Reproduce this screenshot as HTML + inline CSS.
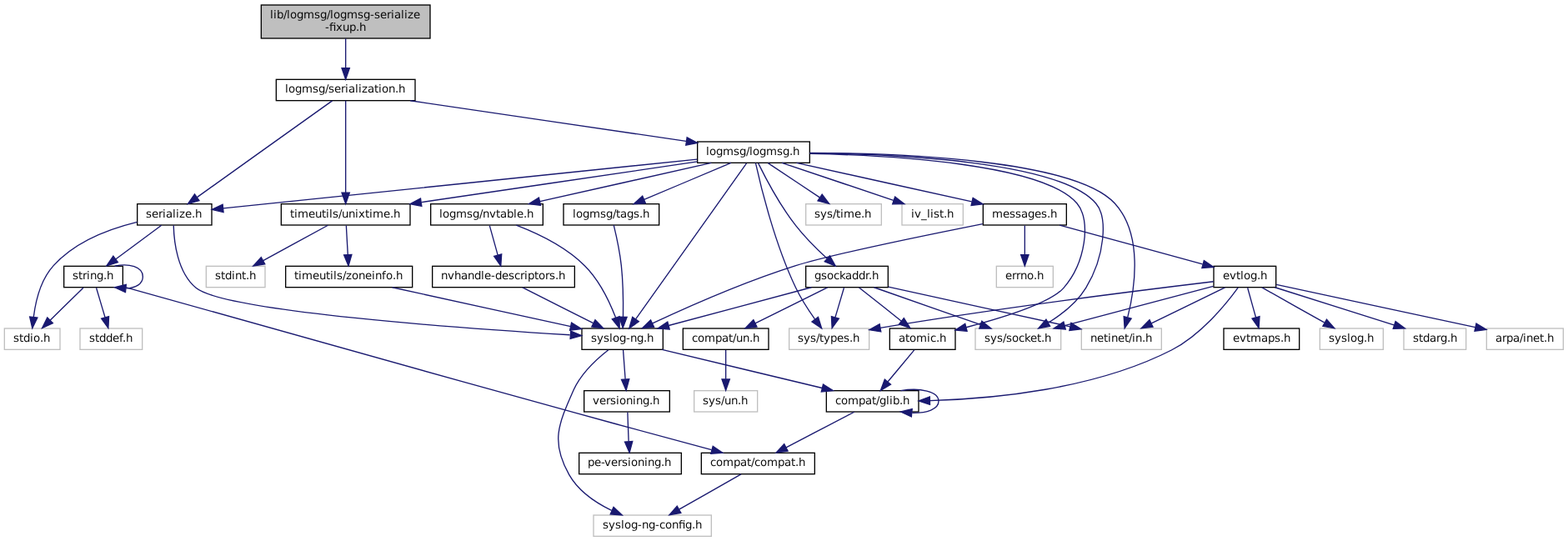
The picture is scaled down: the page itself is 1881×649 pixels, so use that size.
<!DOCTYPE html>
<html lang="en">
<head>
<meta charset="utf-8">
<title>lib/logmsg/logmsg-serialize-fixup.h</title>
<style>
html,body{margin:0;padding:0;background:#fff;}
body{width:1881px;height:649px;overflow:hidden;}
svg{display:block;will-change:transform;}
text{font-family:"DejaVu Sans","Liberation Sans",sans-serif;font-size:10px;fill:#000;white-space:pre;}
.n rect{fill:#fff;stroke:#000;stroke-width:1;}
.s rect{stroke:#bfbfbf;}
.r rect{fill:#bfbfbf;}
.e path{fill:none;stroke:#191970;stroke-width:1;}
.e polygon{fill:#191970;stroke:#191970;stroke-width:1;}
text{text-rendering:geometricPrecision;fill-opacity:0.955}
</style>
</head>
<body>
<svg width="1881" height="649" viewBox="0 0 1410.75 486.75">
<rect x="0" y="0" width="1410.75" height="486.75" fill="#fff"/>
<g transform="translate(4 483)">
<g class="n r"><rect x="231" y="-478.5" width="152" height="30"/><text x="239 242 245 251 254 257 263 269 278.75 284 290 293 296 302 308 317.75 323 329 332.75 338 344 347.75 350.75 356.75 359.75 362.75 368" y="-466.5">lib/logmsg/logmsg-serialize</text><text y="-455.25"><tspan x="288.5">-</tspan><tspan x="292.25">fi</tspan><tspan x="298.25 304.25 310.25 316.25 319.25">xup.h</tspan></text></g>
<g class="n"><rect x="244.5" y="-411.5" width="125" height="19"/><text x="252.5 255.5 261.5 267.5 277.25 282.5 288.5 291.5 296.75 302.75 306.5 309.5 315.5 318.5 321.5 326.75 332.75 336.5 339.5 345.5 351.5 354.5" y="-399.75">logmsg/serialization.h</text></g>
<g class="n"><rect x="119.5" y="-299.5" width="67" height="19"/><text x="127.25 132.5 138.5 142.25 145.25 151.25 154.25 157.25 162.5 168.5 171.5" y="-287.25">serialize.h</text></g>
<g class="n"><rect x="623.5" y="-355.5" width="101" height="19"/><text x="631.25 634.25 640.25 646.25 656 661.25 667.25 670.25 673.25 679.25 685.25 695 700.25 706.25 709.25" y="-343.5">logmsg/logmsg.h</text></g>
<g class="n"><rect x="249" y="-299.5" width="116" height="19"/><text x="257 260.75 263.75 273.5 279.5 285.5 289.25 292.25 295.25 300.5 303.5 309.5 315.5 318.5 324.5 328.25 331.25 341 347 350" y="-287.25">timeutils/unixtime.h</text></g>
<g class="n s"><rect x="0" y="-187.5" width="50" height="19"/><text x="8 13.25 17 23 26 32 35" y="-175.5">stdio.h</text></g>
<g class="n"><rect x="53.5" y="-243.5" width="53" height="19"/><text x="61.25 66.5 70.25 74 77 83 89 92" y="-231.75">string.h</text></g>
<g class="n"><rect x="519.5" y="-187.5" width="73" height="19"/><text x="527.75 533 539 544.25 547.25 553.25 559.25 563 569 575 578" y="-175.5">syslog-ng.h</text></g>
<g class="n"><rect x="627" y="-75.5" width="102" height="19"/><text x="635 640.25 646.25 656 662 668 671.75 674.75 680 686 695.75 701.75 707.75 711.5 714.5" y="-63.75">compat/compat.h</text></g>
<g class="n s"><rect x="68" y="-187.5" width="56" height="19"/><text x="76.25 81.5 85.25 91.25 97.25 103.25 106.25 109.25" y="-175.5">stddef.h</text></g>
<g class="n s"><rect x="530" y="-19.5" width="106" height="19"/><text y="-7.5"><tspan x="538.25 543.5 549.5 554.75 557.75 563.75 569.75 573.5 579.5 585.5 589.25 594.5 600.5">syslog-ng-con</tspan><tspan x="606.5">fi</tspan><tspan x="612.5 618.5 621.5">g.h</tspan></text></g>
<g class="n"><rect x="739.5" y="-131.5" width="83" height="19"/><text x="747.5 752.75 758.75 768.5 774.5 780.5 784.25 787.25 793.25 796.25 799.25 805.25 808.25" y="-119.25">compat/glib.h</text></g>
<g class="n"><rect x="521.5" y="-131.5" width="77" height="19"/><text x="529.25 535.25 541.25 545 550.25 553.25 559.25 565.25 568.25 574.25 580.25 583.25" y="-119.25">versioning.h</text></g>
<g class="n"><rect x="517" y="-75.5" width="92" height="19"/><text x="524.75 530.75 536.75 539.75 545.75 551.75 555.5 560.75 563.75 569.75 575.75 578.75 584.75 590.75 593.75" y="-63.75">pe-versioning.h</text></g>
<g class="n"><rect x="721" y="-243.5" width="74" height="19"/><text x="728.75 734.75 740 746 751.25 756.5 762.5 768.5 774.5 777.5 780.5" y="-231.75">gsockaddr.h</text></g>
<g class="n"><rect x="796.5" y="-187.5" width="59" height="19"/><text x="804.5 810.5 814.25 820.25 830 833 838.25 841.25" y="-175.5">atomic.h</text></g>
<g class="n s"><rect x="706" y="-187.5" width="72" height="19"/><text x="713.75 719 725 730.25 733.25 737 743 749 755 760.25 763.25" y="-175.5">sys/types.h</text></g>
<g class="n s"><rect x="873.5" y="-187.5" width="77" height="19"/><text x="881.75 887 893 898.25 901.25 906.5 912.5 917.75 923 929 932.75 935.75" y="-175.5">sys/socket.h</text></g>
<g class="n s"><rect x="969" y="-187.5" width="72" height="19"/><text x="977 983 989 992.75 995.75 1001.75 1007.75 1011.5 1014.5 1017.5 1023.5 1026.5" y="-175.5">netinet/in.h</text></g>
<g class="n"><rect x="383.5" y="-299.5" width="101" height="19"/><text x="391.25 394.25 400.25 406.25 416 421.25 427.25 430.25 436.25 442.25 446 452 458 461 467 470" y="-287.25">logmsg/nvtable.h</text></g>
<g class="n"><rect x="503" y="-299.5" width="86" height="19"/><text x="511.25 514.25 520.25 526.25 536 541.25 547.25 550.25 554 560 566 571.25 574.25" y="-287.25">logmsg/tags.h</text></g>
<g class="n"><rect x="880.5" y="-299.5" width="75" height="19"/><text x="888.5 898.25 904.25 909.5 914.75 920.75 926.75 932.75 938 941" y="-287.25">messages.h</text></g>
<g class="n s"><rect x="721" y="-299.5" width="68" height="19"/><text x="728.75 734 740 745.25 748.25 752 755 764.75 770.75 773.75" y="-287.25">sys/time.h</text></g>
<g class="n s"><rect x="807.5" y="-299.5" width="55" height="19"/><text x="815.75 818.75 824.75 830 833 836 841.25 845 848" y="-287.25">iv_list.h</text></g>
<g class="n"><rect x="610.5" y="-187.5" width="77" height="19"/><text x="618.5 623.75 629.75 639.5 645.5 651.5 655.25 658.25 664.25 670.25 673.25" y="-175.5">compat/un.h</text></g>
<g class="n s"><rect x="620.5" y="-131.5" width="57" height="19"/><text x="628.25 633.5 639.5 644.75 647.75 653.75 659.75 662.75" y="-119.25">sys/un.h</text></g>
<g class="n s"><rect x="181.5" y="-243.5" width="53" height="19"/><text x="189.5 194.75 198.5 204.5 207.5 213.5 217.25 220.25" y="-231.75">stdint.h</text></g>
<g class="n"><rect x="253" y="-243.5" width="114" height="19"/><text x="260.75 264.5 267.5 277.25 283.25 289.25 293 296 299 304.25 307.25 312.5 318.5 324.5 330.5 333.5 339.5 343.25 349.25 352.25" y="-231.75">timeutils/zoneinfo.h</text></g>
<g class="n"><rect x="385" y="-243.5" width="128" height="19"/><text x="392.75 398.75 404.75 410.75 416.75 422.75 428.75 431.75 437.75 441.5 447.5 453.5 458.75 464 467.75 470.75 476.75 480.5 486.5 490.25 495.5 498.5" y="-231.75">nvhandle-descriptors.h</text></g>
<g class="n s"><rect x="892.5" y="-243.5" width="51" height="19"/><text x="900.5 906.5 910.25 914 920 926 929" y="-231.75">errno.h</text></g>
<g class="n"><rect x="1088" y="-243.5" width="56" height="19"/><text x="1096.25 1102.25 1108.25 1112 1115 1121 1127 1130" y="-231.75">evtlog.h</text></g>
<g class="n s"><rect x="1183.5" y="-187.5" width="57" height="19"/><text x="1191.5 1196.75 1202.75 1208 1211 1217 1223 1226" y="-175.5">syslog.h</text></g>
<g class="n s"><rect x="1259" y="-187.5" width="56" height="19"/><text x="1267.25 1272.5 1276.25 1282.25 1288.25 1292 1298 1301" y="-175.5">stdarg.h</text></g>
<g class="n s"><rect x="1333.5" y="-187.5" width="69" height="19"/><text x="1341.5 1347.5 1351.25 1357.25 1363.25 1366.25 1369.25 1375.25 1381.25 1385 1388" y="-175.5">arpa/inet.h</text></g>
<g class="n"><rect x="1097" y="-187.5" width="68" height="19"/><text x="1105.25 1111.25 1117.25 1121 1130.75 1136.75 1142.75 1148 1151" y="-175.5">evtmaps.h</text></g>
<g class="e"><path d="M307,-448.4C307,-440.47 307,-430.46 307,-421.86"/><polygon points="310.5,-421.66 307,-411.66 303.5,-421.66"/></g>
<g class="e"><path d="M294.92,-392.37C268.6,-373.57 205.88,-328.77 173.35,-305.53"/><polygon points="175.2,-302.56 165.03,-299.59 171.13,-308.25"/></g>
<g class="e"><path d="M365.15,-392.44C432.92,-382.47 544.38,-366.07 613.24,-355.94"/><polygon points="614.12,-359.35 623.5,-354.43 613.1,-352.42"/></g>
<g class="e"><path d="M307,-392.37C307,-374.62 307,-333.67 307,-309.6"/><polygon points="310.5,-309.59 307,-299.59 303.5,-309.59"/></g>
<g class="e"><path d="M119.36,-283.18C94.65,-277.16 63.54,-265.45 44.15,-244 32.63,-231.31 28.04,-212.11 26.24,-197.86"/><polygon points="29.7,-197.27 25.11,-187.72 22.74,-198.04"/></g>
<g class="e"><path d="M141.27,-280.32C130.16,-272.11 113.26,-259.6 100.02,-249.81"/><polygon points="102.06,-246.97 91.94,-243.83 97.9,-252.59"/></g>
<g class="e"><path d="M152.16,-280.23C152.5,-266 155.41,-238.06 172.28,-224 197.68,-202.83 411.96,-187.54 508.7,-181.66"/><polygon points="509.49,-185.14 519.26,-181.05 509.07,-178.16"/></g>
<g class="e"><path d="M70.92,-224.08C62.83,-216.14 50.8,-204.34 41.09,-194.8"/><polygon points="43.5,-192.26 33.91,-187.75 38.6,-197.25"/></g>
<g class="e"><path d="M99.21,-243.57C112.03,-246.27 124.5,-243.08 124.5,-234 124.5,-227.4 117.92,-223.92 109.4,-223.54"/><polygon points="108.87,-220.07 99.21,-224.43 109.48,-227.04"/></g>
<g class="e"><path d="M106.84,-225.14C173.77,-206.26 358.1,-154.36 512,-112 554.27,-100.37 602.65,-87.28 636.23,-78.23"/><polygon points="637.41,-81.53 646.16,-75.55 635.59,-74.77"/></g>
<g class="e"><path d="M82.64,-224.08C84.79,-216.85 87.88,-206.41 90.55,-197.4"/><polygon points="93.92,-198.33 93.41,-187.75 87.21,-196.34"/></g>
<g class="e"><path d="M662.74,-56.32C647.78,-47.82 624.75,-34.73 607.27,-24.8"/><polygon points="608.65,-21.55 598.23,-19.65 605.19,-27.64"/></g>
<g class="e"><path d="M543.37,-168.19C532.96,-160.07 518.85,-147.02 512,-132 498.3,-101.07 491.33,-85.43 508,-56 516.35,-41.26 531.66,-30.82 546.29,-23.73"/><polygon points="548,-26.8 555.72,-19.55 545.16,-20.4"/></g>
<g class="e"><path d="M591.65,-168.44C630.66,-159.08 693.27,-144.06 735.72,-133.87"/><polygon points="736.61,-137.25 745.51,-131.52 734.97,-130.45"/></g>
<g class="e"><path d="M556.66,-168.08C557.18,-161.01 557.94,-150.86 558.59,-141.99"/><polygon points="562.1,-141.98 559.35,-131.75 555.12,-141.47"/></g>
<g class="e"><path d="M764.61,-112.32C747.997,-103.7 722.463,-90.36 703.28,-80.39"/><polygon points="704.82,-77.24 694.35,-75.65 701.55,-83.43"/></g>
<g class="e"><path d="M806.38,-131.53C823.62,-134.31 840.5,-131.13 840.5,-122 840.5,-114.72 829.78,-111.23 816.7,-111.52"/><polygon points="816.01,-108.07 806.38,-112.47 816.66,-115.04"/></g>
<g class="e"><path d="M560.66,-112.08C560.847,-105.01 561.273,-94.86 561.59,-85.99"/><polygon points="565.1,-85.98 562.35,-75.75 558.12,-85.47"/></g>
<g class="e"><path d="M623.1,-339.72C521.05,-329.15 293.01,-305.51 196.98,-295.56"/><polygon points="197.05,-292.05 186.75,-294.5 196.33,-299.01"/></g>
<g class="e"><path d="M667.66,-336.08C648.76,-309.49 592.64,-230.54 567.92,-195.76"/><polygon points="570.74,-193.69 562.09,-187.57 565.03,-197.75"/></g>
<g class="e"><path d="M678.23,-336.12C684.62,-323.15 697.52,-298.55 712,-280 720.31,-269.35 731.04,-258.71 740.05,-250.46"/><polygon points="742.58,-252.89 747.71,-243.62 737.92,-247.67"/></g>
<g class="e"><path d="M724.68,-344.76C799.68,-343.21 934.64,-335.42 965,-300 978.06,-284.76 972.55,-246.25 953,-224 941.18,-210.54 898.05,-197.08 865.3,-188.44"/><polygon points="866.07,-185.02 855.51,-185.91 864.32,-191.8"/></g>
<g class="e"><path d="M675.8,-336.48C680.24,-316.26 692.81,-264.12 712,-224 716.71,-214.15 723.33,-203.97 729.15,-195.79"/><polygon points="732.13,-197.65 735.24,-187.52 726.49,-193.49"/></g>
<g class="e"><path d="M724.71,-345.26C803.41,-344.46 949.35,-337.76 982,-300 992.8,-287.51 990.21,-252.25 973,-224 964.98,-210.84 951.53,-200.3 939.29,-192.74"/><polygon points="940.7,-189.51 930.28,-187.54 937.2,-195.57"/></g>
<g class="e"><path d="M724.59,-345.51C806.62,-345.17 963.08,-339.23 999,-300 1024.48,-272.17 1017.2,-223.94 1010.56,-197.55"/><polygon points="1013.88,-196.42 1007.85,-187.71 1007.13,-198.28"/></g>
<g class="e"><path d="M623.36,-337.55C558.88,-328.06 447.25,-311.64 375.3,-301.05"/><polygon points="375.38,-297.52 364.98,-299.53 374.37,-304.45"/></g>
<g class="e"><path d="M635.97,-336.44C594.19,-327.04 527.02,-311.93 481.73,-301.74"/><polygon points="482.38,-298.3 471.85,-299.52 480.84,-305.13"/></g>
<g class="e"><path d="M653.72,-336.44C632.65,-327.56 599.48,-313.56 575.51,-303.45"/><polygon points="576.76,-300.18 566.19,-299.52 574.04,-306.63"/></g>
<g class="e"><path d="M712.66,-336.44C755.39,-326.99 824.24,-311.75 870.28,-301.56"/><polygon points="871.31,-304.92 880.32,-299.34 869.8,-298.08"/></g>
<g class="e"><path d="M687.01,-336.32C699.53,-327.98 718.68,-315.21 733.47,-305.35"/><polygon points="735.64,-308.11 742.02,-299.65 731.76,-302.29"/></g>
<g class="e"><path d="M699.51,-336.44C726.6,-327.36 769.59,-312.94 799.87,-302.78"/><polygon points="801.24,-306.01 809.61,-299.52 799.01,-299.38"/></g>
<g class="e"><path d="M725.99,-224.44C691.27,-215.16 635.71,-200.31 597.62,-190.13"/><polygon points="598.42,-186.72 587.86,-187.52 596.61,-193.48"/></g>
<g class="e"><path d="M740.49,-224.32C722.93,-215.62 695.67,-202.12 675.47,-192.11"/><polygon points="676.98,-188.96 666.47,-187.65 673.88,-195.23"/></g>
<g class="e"><path d="M768.93,-224.32C779.17,-216.18 794.72,-203.84 807,-194.09"/><polygon points="809.22,-196.79 814.88,-187.83 804.87,-191.31"/></g>
<g class="e"><path d="M755.36,-224.08C753.21,-216.85 750.12,-206.41 747.45,-197.4"/><polygon points="750.79,-196.34 744.59,-187.75 744.08,-198.33"/></g>
<g class="e"><path d="M782.4,-224.44C808.2,-215.4 849.08,-201.06 878.02,-190.92"/><polygon points="879.43,-194.13 887.71,-187.52 877.12,-187.52"/></g>
<g class="e"><path d="M795.25,-224.86C838.94,-215.3 911.4,-199.46 958.68,-189.13"/><polygon points="959.64,-192.5 968.66,-186.94 958.14,-185.66"/></g>
<g class="e"><path d="M649,-168.08C649,-161.01 649,-150.86 649,-141.99"/><polygon points="652.5,-141.75 649,-131.75 645.5,-141.75"/></g>
<g class="e"><path d="M818.57,-168.08C812.15,-160.38 802.69,-149.03 794.88,-139.65"/><polygon points="797.38,-137.19 788.29,-131.75 792.01,-141.67"/></g>
<g class="e"><path d="M291.09,-280.32C275.36,-271.74 251.06,-258.49 232.79,-248.52"/><polygon points="234.32,-245.37 223.87,-243.65 230.97,-251.52"/></g>
<g class="e"><path d="M307.5,-280.08C307.89,-273.01 308.45,-262.86 308.95,-253.99"/><polygon points="312.45,-253.93 309.51,-243.75 305.46,-253.54"/></g>
<g class="e"><path d="M348.98,-224.44C392.52,-214.88 462.98,-199.42 509.4,-189.23"/><polygon points="510.19,-192.64 519.21,-187.08 508.69,-185.8"/></g>
<g class="e"><path d="M460.51,-280.38C479.51,-273.12 504.69,-261.15 522,-244 535.26,-230.86 544.49,-211.45 549.95,-197.26"/><polygon points="553.32,-198.21 553.39,-187.62 546.73,-195.86"/></g>
<g class="e"><path d="M436.48,-280.08C438.49,-272.85 441.39,-262.41 443.89,-253.4"/><polygon points="447.26,-254.32 446.57,-243.75 440.52,-252.45"/></g>
<g class="e"><path d="M466.19,-224.32C483.35,-215.66 509.95,-202.24 529.75,-192.25"/><polygon points="531.5,-195.28 538.85,-187.65 528.35,-189.04"/></g>
<g class="e"><path d="M548.19,-280.45C550.39,-271.45 553.63,-256.83 555,-244 556.65,-228.55 556.81,-210.92 556.61,-197.92"/><polygon points="560.11,-197.78 556.37,-187.86 553.11,-197.94"/></g>
<g class="e"><path d="M880.08,-281.57C829.55,-271.52 742.9,-253.73 712,-244 665.53,-229.37 613.72,-206.38 583.04,-192.02"/><polygon points="584.4,-188.79 573.86,-187.69 581.41,-195.12"/></g>
<g class="e"><path d="M918,-280.08C918,-273.01 918,-262.86 918,-253.99"/><polygon points="921.5,-253.75 918,-243.75 914.5,-253.75"/></g>
<g class="e"><path d="M949.37,-280.44C984.26,-270.93 1040.61,-255.56 1077.97,-245.37"/><polygon points="1079.25,-248.65 1087.97,-242.64 1077.41,-241.9"/></g>
<g class="e"><path d="M1109.87,-224.13C1099.41,-209.75 1076.65,-181.59 1050,-168 980.51,-132.55 889.06,-124.09 832.68,-122.56"/><polygon points="832.65,-119.06 822.58,-122.35 832.51,-126.06"/></g>
<g class="e"><path d="M1087.84,-229.68C1031,-222.87 898.56,-206.39 788,-188 787.9,-187.98 787.8,-187.97 787.7,-187.95"/><polygon points="788.58,-184.55 778.12,-186.27 787.37,-191.45"/></g>
<g class="e"><path d="M1087.63,-225.49C1052.92,-216.3 993.83,-200.66 953.87,-190.08"/><polygon points="954.72,-186.69 944.16,-187.51 952.93,-193.45"/></g>
<g class="e"><path d="M1098.17,-224.32C1080.28,-215.62 1052.52,-202.12 1031.95,-192.11"/><polygon points="1033.31,-188.88 1022.79,-187.65 1030.25,-195.18"/></g>
<g class="e"><path d="M1131.42,-224.32C1146.54,-215.82 1169.82,-202.73 1187.47,-192.8"/><polygon points="1189.61,-195.61 1196.61,-187.65 1186.18,-189.51"/></g>
<g class="e"><path d="M1143.1,-224.44C1171.99,-215.32 1217.92,-200.81 1250.11,-190.65"/><polygon points="1251.55,-193.87 1260.03,-187.52 1249.44,-187.19"/></g>
<g class="e"><path d="M1144.42,-226.91C1187.98,-217.58 1271.64,-199.65 1323.36,-188.57"/><polygon points="1324.21,-191.96 1333.25,-186.45 1322.74,-185.12"/></g>
<g class="e"><path d="M1118.48,-224.08C1120.49,-216.85 1123.39,-206.41 1125.89,-197.4"/><polygon points="1129.26,-198.32 1128.57,-187.75 1122.52,-196.45"/></g>
</g>
</svg>
</body>
</html>
